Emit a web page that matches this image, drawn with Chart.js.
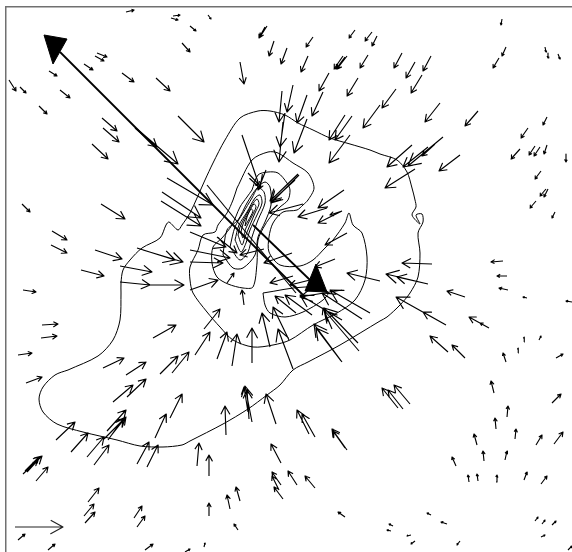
<!DOCTYPE html>
<html>
<head>
<meta charset="utf-8">
<style>
html, body { margin: 0; padding: 0; background: #fff; }
canvas { display: block; }
</style>
<script src="https://cdn.jsdelivr.net/npm/chart.js@4"></script>
</head>
<body>
<canvas id="canvas1" width="572" height="552"></canvas>
<script>
// wind vectors, each row is tail x, tail y, tip x, tip y
let arrowsNorthWest = [
  [126,12,134,10],[173,16,180,15],[171,18,178,20],[182,43,190,52],[97,53,107,57],[95,56,104,61],
  [84,64,93,70],[49,71,57,76],[122,73,134,82],[156,78,170,91],[9,80,16,91],[20,87,26,93],
  [60,90,70,98],[39,106,47,114],[178,116,204,142],[102,118,117,131],[103,128,119,142],[92,144,108,159],
  [135,128,157,147],[137,129,178,164],[208,15,211,19],[190,26,196,31]
];
let arrowsNorth = [
  [265,27,259,38],[267,26,260,37],[313,37,306,47],[274,41,269,56],[287,48,281,64],[240,62,244,84],
  [308,56,301,72],[355,30,349,38],[372,32,365,41],[377,36,372,46],[368,55,360,68],[343,56,334,69],
  [347,56,337,69],[345,57,336,69],[329,73,319,91],[358,78,347,96],[293,85,287,112],[282,91,279,122],
  [307,95,297,123],[323,92,312,116],[380,105,363,128],[285,113,280,147],[283,122,279,162],[307,119,294,153],
  [345,115,329,140],[352,116,335,140],[350,135,329,163],[242,135,260,188],[298,174,270,201],[299,175,271,203],
  [248,173,261,187],[266,170,258,190]
];
let arrowsNorthEast = [
  [502,19,501,25],[506,47,502,56],[499,58,493,68],[545,47,546,52],[548,53,548,58],[558,54,560,59],
  [402,53,394,68],[415,62,406,78],[431,56,423,71],[422,75,411,93],[396,89,382,108],[440,103,425,122],
  [478,111,465,126],[443,137,408,166],[435,144,422,156],[428,147,403,167],[412,145,387,167],[460,155,439,171],
  [415,169,385,188],[547,117,543,125],[528,128,521,138],[520,149,511,159],[535,146,529,155],[540,147,534,156],
  [547,145,544,154],[566,154,566,162],[541,171,535,179]
];
let arrowsEast = [
  [546,189,540,196],[548,189,544,197],[536,201,530,208],[555,212,552,218],[432,264,402,263],[428,284,386,274],
  [428,284,397,277],[503,261,491,262],[507,276,497,276],[508,290,499,288],[527,298,523,297],[572,302,566,301],
  [465,297,447,291],[446,325,396,297],[446,325,423,312],[489,328,469,317],[489,328,480,323],[448,352,430,336],
  [465,358,452,345],[506,362,503,353],[518,353,518,348],[524,342,524,337],[539,340,541,336],[556,358,563,354]
];
let arrowsWest = [
  [22,204,30,212],[101,204,125,219],[52,231,67,240],[51,245,67,253],[95,250,122,259],[81,270,104,276],
  [137,248,175,260],[143,250,183,262],[120,266,152,272],[120,282,150,285],[150,285,184,285],[23,290,36,292],
  [42,325,58,324],[41,338,57,336],[18,355,32,353],[153,338,176,325],[103,368,124,358],[126,375,146,362],
  [160,374,178,356],[172,373,189,352],[162,192,201,218],[161,201,201,226],[167,178,213,205]
];
let arrowsCentre = [
  [195,355,210,332],[204,329,220,309],[217,359,227,332],[232,366,237,334],[252,363,252,328],[270,347,262,313],
  [293,369,278,329],[289,340,273,307],[244,305,242,290],[190,290,218,280],[227,283,234,273],[342,362,314,324],
  [341,361,316,328],[358,343,324,308],[359,351,324,310],[332,329,323,308],[370,313,330,290],[362,319,322,293],
  [342,320,300,295],[312,315,285,295],[296,313,275,296],[293,276,270,283],[310,280,290,285],[342,290,300,297],
  [335,259,315,267],[347,233,325,245],[292,253,264,263],[344,190,318,208],[327,208,298,217],[342,211,318,223],
  [342,211,330,215],[380,281,347,273],[303,204,269,213],[295,180,271,202],[264,249,240,255],[190,250,230,258],
  [190,262,223,263],[190,232,226,247],[217,237,237,253]
];
let arrowsSouthWest = [
  [26,383,42,377],[113,402,133,385],[127,397,146,379],[170,418,182,394],[155,438,166,414],[56,440,75,422],
  [71,452,88,433],[87,457,104,437],[94,465,109,445],[107,431,126,410],[108,440,123,419],[104,439,125,418],
  [110,437,126,417],[137,464,149,442],[147,467,158,445],[23,474,42,456],[25,471,39,457],[27,472,37,461],
  [36,481,48,467],[88,502,99,488],[84,516,94,504],[85,523,95,512],[134,518,142,506],[137,527,145,516],
  [18,540,25,534],[48,550,55,544],[145,550,153,544],[185,552,190,549]
];
let arrowsSouth = [
  [226,435,225,406],[252,422,245,386],[249,419,247,390],[248,412,244,387],[276,424,266,394],[197,466,199,443],
  [209,476,209,455],[309,434,297,410],[315,437,302,414],[347,450,332,429],[345,448,333,431],[281,463,271,444],
  [281,485,272,472],[279,490,272,476],[283,499,274,487],[297,485,288,471],[315,488,305,476],[209,516,209,503],
  [230,509,227,495],[240,501,236,487],[238,530,234,524],[204,547,205,543],[345,517,338,512]
];
let arrowsSouthEast = [
  [398,408,382,388],[403,409,388,390],[410,404,394,385],[494,393,491,381],[552,403,561,394],[507,417,508,406],
  [496,429,495,418],[515,439,516,429],[477,445,474,434],[536,445,542,435],[554,444,563,432],[484,461,483,451],
  [505,460,507,451],[456,466,452,457],[469,482,468,475],[478,481,477,474],[496,482,497,475],[524,480,527,472],
  [541,484,547,476],[431,515,427,513],[447,524,441,522],[393,526,389,524],[391,531,387,530],[411,535,407,536],
  [415,541,411,544],[460,541,457,545],[535,521,538,517],[542,524,545,520],[552,525,556,521],[541,537,545,535],
  [568,550,572,546]
];
let referenceArrow = [[15,527,63,527]];
let plainShaft = [[207,185],[296,293]];

// the two big resultant arrows
let mainShaftOne = [[305,297],[60,52]];
let mainShaftTwo = [[310,280],[253,225]];
let mainHeadOne = [[44,35],[67,39],[53,64],[44,35]];
let mainHeadTwo = [[316,264],[305,291],[327,292],[316,264]];

// contour lines
let contourOuter = [
  [68,370],[98,356],[113,340],[120,320],[121,293],[121,283],[123,270],[130,260],[142,248],[160,238],[166,225],
  [169,222],[178,230],[182,225],[190,213],[205,180],[213,163],[225,140],[240,118],[258,111],[270,111],[285,115],
  [298,123],[313,130],[330,138],[350,144],[370,150],[380,154],[397,160],[407,172],[412,188],[415,200],[416,207],
  [412,215],[420,224],[416,215],[422,214],[423,222],[418,233],[420,253],[418,277],[410,293],[400,305],[387,317],
  [380,321],[340,345],[308,362],[293,370],[280,385],[267,395],[248,409],[223,424],[190,441],[182,445],[163,447],
  [140,446],[117,440],[83,432],[57,424],[43,412],[39,399],[43,387],[55,375],[68,370]
];
let contourTwo = [
  [237,188],[252,160],[268,152],[278,153],[293,163],[308,173],[314,188],[308,200],[303,205],[297,210],[283,212],
  [273,223],[269,237],[269,252],[280,265],[300,266],[313,260],[325,248],[333,240],[345,223],[349,213],[353,225],
  [362,233],[367,257],[365,280],[355,300],[337,313],[313,325],[290,340],[273,345],[253,347],[233,340],[220,327],
  [207,312],[193,293],[190,280],[190,267],[198,250],[203,235],[215,232],[218,225],[227,213],[233,200],[237,188]
];
let contourTear = [
  [263,293],[265,305],[270,313],[285,317],[303,312],[323,300],[328,292],[305,287],[263,293]
];
let contourThree = [
  [252,190],[258,175],[268,172],[278,173],[287,183],[290,190],[288,200],[280,207],[272,215],[265,225],[258,240],
  [257,263],[253,287],[243,288],[228,284],[217,277],[212,263],[213,247],[222,238],[232,225],[240,207],[247,197],[252,190]
];
let contourFour = [
  [223,255],[233,268],[243,268],[255,255],[258,237],[265,222],[271,205],[270,187],[265,182],[257,188],[247,203],
  [238,220],[227,230],[223,255]
];
let contourFive = [
  [230,247],[240,260],[248,252],[252,237],[258,220],[265,203],[264,192],[258,188],[252,198],[243,213],[235,227],[230,247]
];
let contourSix = [
  [235,240],[241,252],[246,243],[250,230],[257,215],[262,203],[260,195],[255,198],[247,212],[239,225],[235,240]
];
let contourSeven = [
  [238,235],[242,245],[245,237],[250,225],[255,213],[259,204],[257,199],[252,205],[245,217],[240,227],[238,235]
];
let contourEight = [
  [241,232],[243,238],[246,228],[252,216],[256,207],[254,204],[249,212],[243,224],[241,232]
];
let contourNine = [[245,226],[248,221],[253,211],[251,209],[247,217],[245,226]];

let allArrows = [].concat(arrowsNorthWest, arrowsNorth, arrowsNorthEast, arrowsEast, arrowsWest,
  arrowsCentre, arrowsSouthWest, arrowsSouth, arrowsSouthEast);
let allContours = [contourOuter, contourTwo, contourTear, contourThree, contourFour, contourFive,
  contourSix, contourSeven, contourEight, contourNine];

// tail, tip, one barb, tip, other barb, then a gap
function arrowPoints(rows) {
  let pts = [];
  rows.forEach(function (r) {
    let dx = r[2] - r[0], dy = r[3] - r[1];
    let len = Math.sqrt(dx * dx + dy * dy);
    let barb = Math.min(0.32 * len, 14);
    let ang = Math.atan2(dy, dx);
    let a1 = ang + Math.PI - 0.5, a2 = ang + Math.PI + 0.5;
    pts.push({ x: r[0], y: r[1] }, { x: r[2], y: r[3] });
    pts.push({ x: r[2] + barb * Math.cos(a1), y: r[3] + barb * Math.sin(a1) }, { x: r[2], y: r[3] });
    pts.push({ x: r[2] + barb * Math.cos(a2), y: r[3] + barb * Math.sin(a2) });
    pts.push({ x: null, y: null });
  });
  return pts;
}

function toPoints(list) {
  return list.map(function (p) { return { x: p[0], y: p[1] }; });
}

function lineSet(data, width, color, bend) {
  return { data: data, showLine: true, borderColor: color, borderWidth: width, pointRadius: 0, fill: false, tension: bend || 0, borderJoinStyle: "round", spanGaps: false };
}

let sets = [];
allContours.forEach(function (c) { sets.push(lineSet(toPoints(c), 1, "#000", 0.3)); });
sets.push(lineSet(arrowPoints(allArrows), 1.15, "#000"));
sets.push(lineSet(arrowPoints(referenceArrow), 1.15, "#222"));
sets.push(lineSet(toPoints(plainShaft), 1.15, "#000"));
sets.push(lineSet(toPoints(mainShaftOne), 1.8, "#000"));
sets.push(lineSet(toPoints(mainShaftTwo), 1.8, "#000"));
[mainHeadOne, mainHeadTwo].forEach(function (h) {
  let s = lineSet(toPoints(h), 1, "#000");
  s.fill = "shape";
  s.backgroundColor = "#000";
  sets.push(s);
});

let frameAxis = {
  type: "linear",
  grid: { display: false, drawTicks: false },
  ticks: { display: false },
  border: { display: true, color: "#707070", width: 1.5 }
};

new Chart(document.querySelector("#canvas1").getContext("2d"), {
  type: "scatter",
  data: { datasets: sets },
  options: {
    responsive: false,
    animation: false,
    layout: { padding: { left: 6, top: 7, right: 0, bottom: 0 } },
    plugins: { legend: { display: false }, tooltip: { enabled: false } },
    scales: {
      x: Object.assign({}, frameAxis, { position: "top", min: 6, max: 572 }),
      y: Object.assign({}, frameAxis, { position: "left", min: 7, max: 552, reverse: true })
    }
  }
});
</script>
</body>
</html>
